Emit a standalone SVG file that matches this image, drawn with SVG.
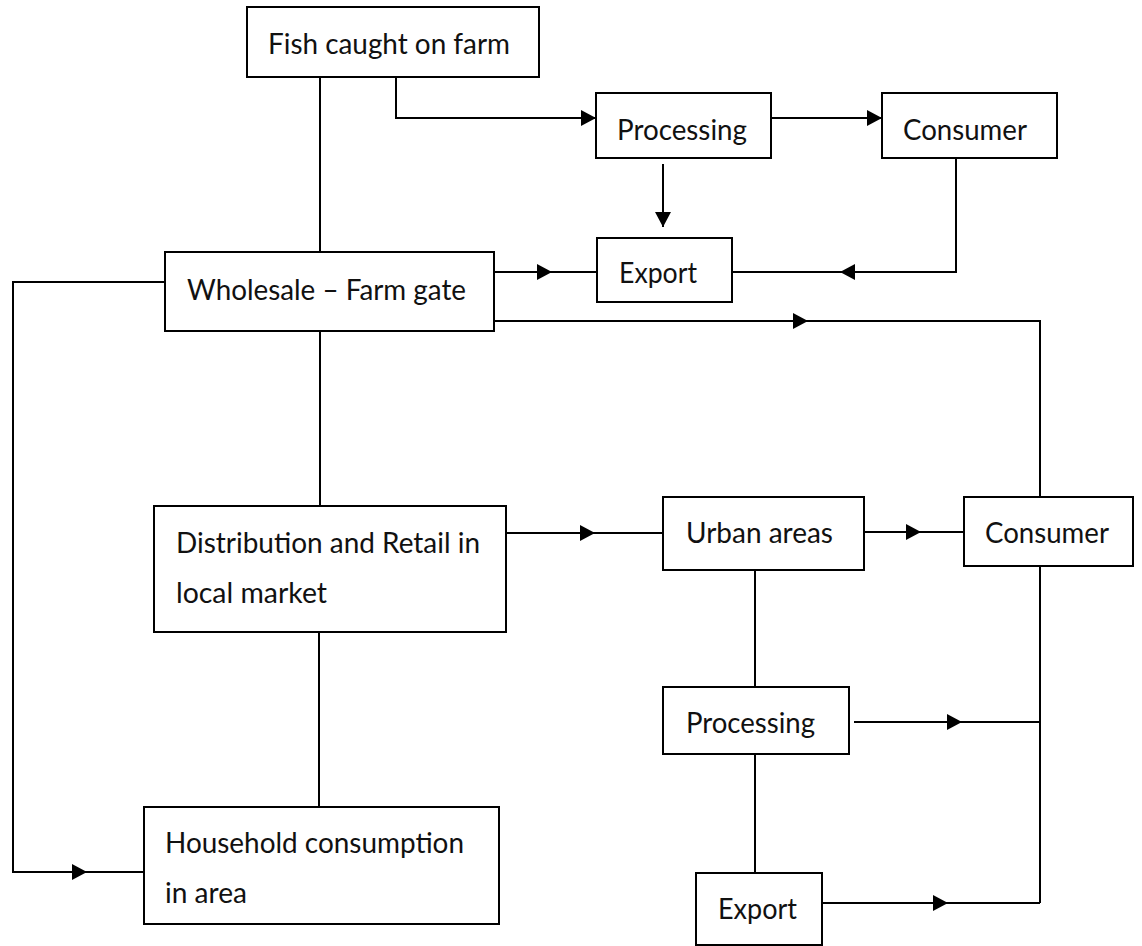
<svg xmlns="http://www.w3.org/2000/svg" width="1142" height="946" viewBox="0 0 1142 946">
<style>
.box{fill:#fff;stroke:#000;stroke-width:2}
.t{font-family:Lato,"Open Sans","Liberation Sans",sans-serif;font-size:28px;fill:#111}
.c{fill:none;stroke:#000;stroke-width:2}
.a{fill:none;stroke:#000;stroke-width:2;marker-end:url(#ah)}
</style>
<defs>
<marker id="ah" markerUnits="userSpaceOnUse" markerWidth="15" markerHeight="16" viewBox="0 0 15 16" refX="15" refY="8" orient="auto">
<path d="M0,0 L15,8 L0,16 Z" fill="#000"/>
</marker>
</defs>
<rect width="1142" height="946" fill="#fff"/>
<g id="connectors">
<path class="c" d="M320,77 V252"/>
<path class="a" d="M396,77 V118 H596"/>
<path class="a" d="M771,118 H882"/>
<path class="a" d="M663,164 V227"/>
<path class="a" d="M494,272 H552"/>
<path class="c" d="M552,272 H597"/>
<path class="a" d="M956,158 V272 H840"/>
<path class="c" d="M840,272 H732"/>
<path class="a" d="M494,321 H808"/>
<path class="c" d="M808,321 H1040 V497"/>
<path class="c" d="M320,331 V506"/>
<path class="a" d="M165,282 H13 V872 H87"/>
<path class="c" d="M87,872 H144"/>
<path class="c" d="M319,632 V807"/>
<path class="a" d="M506,533 H595"/>
<path class="c" d="M595,533 H663"/>
<path class="a" d="M864,532 H921"/>
<path class="c" d="M921,532 H964"/>
<path class="c" d="M755,570 V687"/>
<path class="c" d="M755,754 V873"/>
<path class="c" d="M1040,566 V903"/>
<path class="a" d="M854,722 H962"/>
<path class="c" d="M962,722 H1040"/>
<path class="a" d="M822,903 H948"/>
<path class="c" d="M948,903 H1040"/>
</g>
<g id="fish"><rect class="box" x="247" y="7" width="292" height="70"/><text class="t" x="268" y="54" textLength="242" lengthAdjust="spacingAndGlyphs">Fish caught on farm</text></g>
<g id="processing1"><rect class="box" x="596" y="93" width="175" height="65"/><text class="t" x="617" y="140" textLength="130" lengthAdjust="spacingAndGlyphs">Processing</text></g>
<g id="consumer1"><rect class="box" x="882" y="93" width="175" height="65"/><text class="t" x="903" y="140" textLength="124" lengthAdjust="spacingAndGlyphs">Consumer</text></g>
<g id="export1"><rect class="box" x="597" y="238" width="135" height="64"/><text class="t" x="619" y="283" textLength="78" lengthAdjust="spacingAndGlyphs">Export</text></g>
<g id="wholesale"><rect class="box" x="165" y="252" width="329" height="79"/><text class="t" x="187" y="300" textLength="279" lengthAdjust="spacingAndGlyphs">Wholesale – Farm gate</text></g>
<g id="distribution"><rect class="box" x="154" y="506" width="352" height="126"/><text class="t" x="176" y="553" textLength="304" lengthAdjust="spacingAndGlyphs">Distribution and Retail in</text><text class="t" x="176" y="603" textLength="151" lengthAdjust="spacingAndGlyphs">local market</text></g>
<g id="urban"><rect class="box" x="663" y="497" width="201" height="73"/><text class="t" x="686" y="543" textLength="147" lengthAdjust="spacingAndGlyphs">Urban areas</text></g>
<g id="consumer2"><rect class="box" x="964" y="497" width="169" height="69"/><text class="t" x="985" y="543" textLength="124" lengthAdjust="spacingAndGlyphs">Consumer</text></g>
<g id="processing2"><rect class="box" x="663" y="687" width="186" height="67"/><text class="t" x="686" y="733" textLength="129" lengthAdjust="spacingAndGlyphs">Processing</text></g>
<g id="export2"><rect class="box" x="696" y="873" width="126" height="72"/><text class="t" x="718" y="919" textLength="79" lengthAdjust="spacingAndGlyphs">Export</text></g>
<g id="household"><rect class="box" x="144" y="807" width="355" height="117"/><text class="t" x="165" y="853" textLength="299" lengthAdjust="spacingAndGlyphs">Household consumption</text><text class="t" x="165" y="903" textLength="82" lengthAdjust="spacingAndGlyphs">in area</text></g>
</svg>
